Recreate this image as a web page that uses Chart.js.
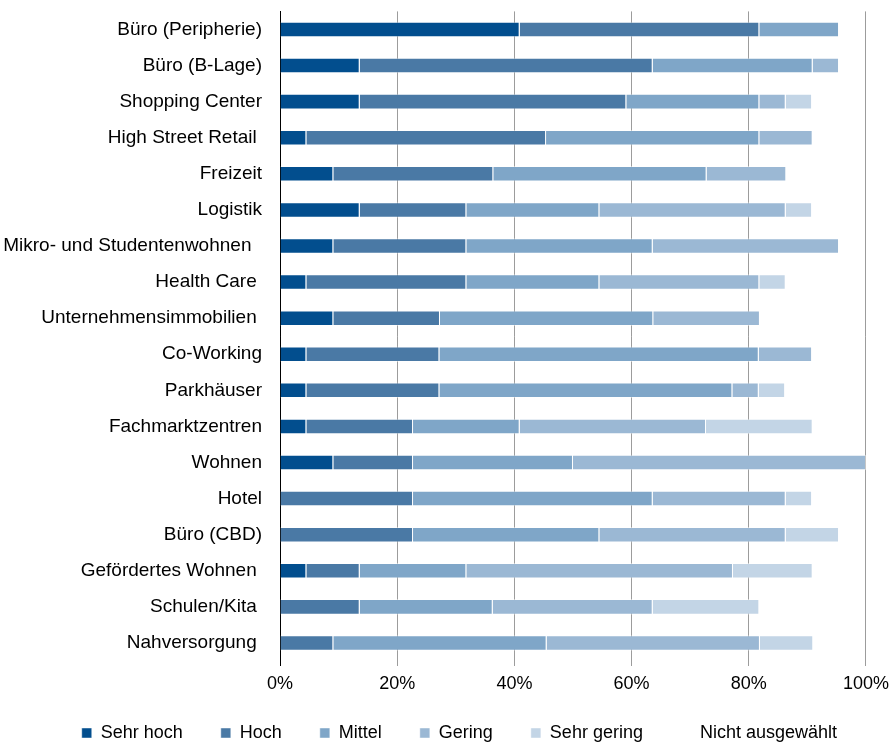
<!DOCTYPE html>
<html>
<head>
<meta charset="utf-8">
<script src="https://cdn.jsdelivr.net/npm/chart.js@4.4.1/dist/chart.umd.min.js"></script>
<style>
  html, body { margin: 0; padding: 0; background: #fff; }
  #wrap { width: 891px; height: 744px; }
</style>
</head>
<body>
<div id="wrap"><canvas id="chart"></canvas></div>
<script>
// Categories (trailing blanks kept as in the source labels)
var categories = [
    'Büro (Peripherie)',
    'Büro (B-Lage)',
    'Shopping Center',
    'High Street Retail ',
    'Freizeit',
    'Logistik',
    'Mikro- und Studentenwohnen  ',
    'Health Care ',
    'Unternehmensimmobilien ',
    'Co-Working',
    'Parkhäuser',
    'Fachmarktzentren',
    'Wohnen',
    'Hotel',
    'Büro (CBD)',
    'Gefördertes Wohnen ',
    'Schulen/Kita ',
    'Nahversorgung '
];

// Share of answers in percent
var sehrHoch     = [40.9, 13.6, 13.6, 4.5, 9.1, 13.6, 9.1, 4.5, 9.1, 4.5, 4.5, 4.5, 9.1, 0, 0, 4.5, 0, 0];
var hoch         = [40.9, 50.0, 45.5, 40.9, 27.3, 18.2, 22.7, 27.3, 18.2, 22.7, 22.7, 18.2, 13.6, 22.7, 22.7, 9.1, 13.6, 9.1];
var mittel       = [13.6, 27.3, 22.7, 36.4, 36.4, 22.7, 31.8, 22.7, 36.4, 54.5, 50.0, 18.2, 27.3, 40.9, 31.8, 18.2, 22.7, 36.4];
var gering       = [0, 4.5, 4.5, 9.1, 13.6, 31.8, 31.8, 27.3, 18.2, 9.1, 4.5, 31.8, 50.0, 22.7, 31.8, 45.5, 27.3, 36.4];
var sehrGering   = [0, 0, 4.5, 0, 0, 4.5, 0, 4.5, 0, 0, 4.5, 18.2, 0, 4.5, 9.1, 13.6, 18.2, 9.1];
var nichtAusgew  = [4.5, 4.5, 9.1, 9.1, 13.6, 9.1, 4.5, 13.6, 18.2, 9.1, 13.6, 9.1, 0, 9.1, 4.5, 9.1, 18.2, 9.1];

var seriesNames = ['Sehr hoch', 'Hoch', 'Mittel', 'Gering', 'Sehr gering', 'Nicht ausgewählt'];
var seriesData = [sehrHoch, hoch, mittel, gering, sehrGering, nichtAusgew];
var seriesColors = ['#024e8e', '#4a79a5', '#7fa6c8', '#9bb8d4', '#c3d5e6', 'rgba(255,255,255,0)'];

var xTicks = [0, 20, 40, 60, 80, 100];

Chart.defaults.font.family = '"Liberation Sans", Arial, sans-serif';
Chart.defaults.font.size = 18;
Chart.defaults.color = '#000';

var datasets = [];
for (var i = 0; i < seriesNames.length; i++) {
    var last = i === seriesNames.length - 1;
    datasets.push({
        label: seriesNames[i],
        data: seriesData[i],
        backgroundColor: seriesColors[i],
        borderColor: last ? 'rgba(255,255,255,0)' : 'rgba(255,255,255,0.45)',
        borderWidth: last ? 0 : 1,
        barPercentage: 0.43,
        categoryPercentage: 1
    });
}

var ctx = document.getElementById('chart').getContext('2d');
var chart = new Chart(ctx, {
    type: 'bar',
    data: {
        labels: categories,
        datasets: datasets
    },
    options: {
        indexAxis: 'y',
        responsive: true,
        maintainAspectRatio: false,
        animation: false,
        layout: { padding: { top: 0, right: 16, bottom: 0, left: 0 } },
        scales: {
            x: {
                stacked: true,
                min: 0,
                max: 100,
                afterBuildTicks: function (scale) {
                    scale.ticks = xTicks.map(function (v) { return { value: v }; });
                },
                afterFit: function (scale) { scale.height = 35; },
                ticks: {
                    padding: 2,
                    font: { lineHeight: 1.8 },
                    callback: function (v) { return v + '%'; }
                },
                grid: {
                    color: function (c) { return c.tick && c.tick.value === 0 ? '#000' : '#9c9c9c'; },
                    lineWidth: 1,
                    tickLength: 5
                },
                border: { display: false }
            },
            y: {
                stacked: true,
                afterFit: function (scale) { scale.width = 280; },
                ticks: { padding: 0, autoSkip: false, font: { size: 19 } },
                grid: { display: false, tickLength: 18 },
                border: { display: true, color: '#000', width: 1 }
            }
        },
        plugins: {
            legend: {
                position: 'bottom',
                align: 'end',
                maxHeight: 48,
                labels: {
                    boxWidth: 10,
                    boxHeight: 10,
                    padding: 28,
                    color: '#000',
                    // two blanks after each entry widen the gap between items
                    generateLabels: function (c) {
                        var items = Chart.defaults.plugins.legend.labels.generateLabels(c);
                        items.forEach(function (it) { it.text = it.text + '  '; });
                        return items;
                    }
                }
            },
            tooltip: { enabled: false }
        }
    }
});
</script>
</body>
</html>
